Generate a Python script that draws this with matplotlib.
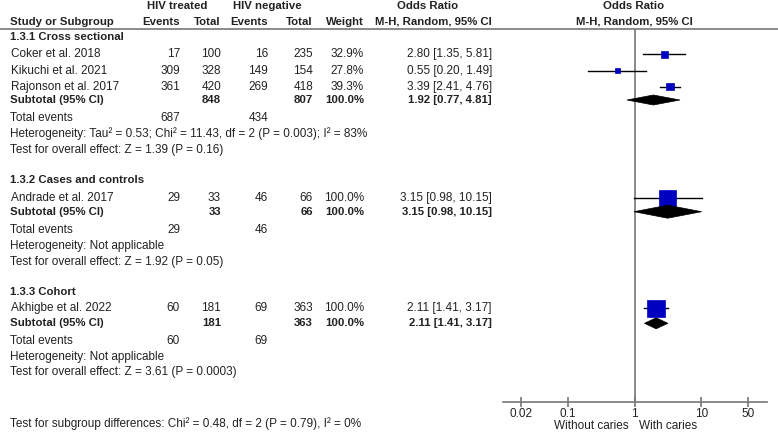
import matplotlib
matplotlib.use("Agg")
import matplotlib.pyplot as plt
from matplotlib.patches import Polygon, Rectangle
import numpy as np

plt.rcParams['font.family'] = ['Liberation Sans', 'DejaVu Sans']

# ---------------- data ----------------
studies = ["Coker et al. 2018", "Kikuchi et al. 2021", "Rajonson et al. 2017",
           "Andrade et al. 2017", "Akhigbe et al. 2022"]
study_group = [0, 0, 0, 1, 2]
treated_events = [17, 309, 361, 29, 60]
treated_total = [100, 328, 420, 33, 181]
neg_events = [16, 149, 269, 46, 69]
neg_total = [235, 154, 418, 66, 363]
weights = [32.9, 27.8, 39.3, 100.0, 100.0]
or_est = [2.80, 0.55, 3.39, 3.15, 2.11]
or_lo = [1.35, 0.20, 2.41, 0.98, 1.41]
or_hi = [5.81, 1.49, 4.76, 10.15, 3.17]

groups = ["1.3.1 Cross sectional", "1.3.2 Cases and controls", "1.3.3 Cohort"]
grp_treated_total = [848, 33, 181]
grp_neg_total = [807, 66, 363]
grp_treated_events = [687, 29, 60]
grp_neg_events = [434, 46, 69]
grp_or = [1.92, 3.15, 2.11]
grp_lo = [0.77, 0.98, 1.41]
grp_hi = [4.81, 10.15, 3.17]
grp_het = ["Heterogeneity: Tau² = 0.53; Chi² = 11.43, df = 2 (P = 0.003); I² = 83%",
           "Heterogeneity: Not applicable",
           "Heterogeneity: Not applicable"]
grp_test = ["Test for overall effect: Z = 1.39 (P = 0.16)",
            "Test for overall effect: Z = 1.92 (P = 0.05)",
            "Test for overall effect: Z = 3.61 (P = 0.0003)"]
subgroup_diff = "Test for subgroup differences: Chi² = 0.48, df = 2 (P = 0.79), I² = 0%"
axis_ticks = [0.02, 0.1, 1, 10, 50]
axis_ticklabels = ["0.02", "0.1", "1", "10", "50"]
favours = ["Without caries", "With caries"]

# ---------------- layout ----------------
W, H = 778, 442
fig = plt.figure(figsize=(W / 100, H / 100), dpi=100)
bg = fig.add_axes([0, 0, 1, 1])
bg.set_xlim(0, W)
bg.set_ylim(H, 0)
bg.axis('off')

FS = 8.5
FSB = 8.2
GREY = '#777777'
BLUE = '#0000c0'
TXT = '#222222'

# row pixel positions (layout)
group_title_y = [36.7, 180.0, 291.7]
study_y = [54.3, 71.0, 86.7, 198.3, 308.3]
subtotal_y = [100.0, 211.7, 323.3]
events_y = [118.0, 230.0, 340.7]
het_y = [134.0, 246.0, 356.7]
test_y = [150.0, 261.7, 371.7]

x_name = 10
x_te, x_tt, x_ne, x_nt, x_w, x_or = 180, 221, 268, 313, 364, 492

def t(x, y, s, ha='left', bold=False, **kw):
    bg.text(x, y, s, ha=ha, va='center', fontsize=FSB if bold else FS,
            fontweight='bold' if bold else 'normal', color=TXT, **kw)

# headers
t(177, 6, "HIV treated", ha='center', bold=True)
t(267, 6, "HIV negative", ha='center', bold=True)
t(428, 6, "Odds Ratio", ha='center', bold=True)
t(634, 6, "Odds Ratio", ha='center', bold=True)
t(x_name, 22, "Study or Subgroup", bold=True)
t(x_te, 22, "Events", ha='right', bold=True)
t(x_tt, 22, "Total", ha='right', bold=True)
t(x_ne, 22, "Events", ha='right', bold=True)
t(x_nt, 22, "Total", ha='right', bold=True)
t(x_w, 22, "Weight", ha='right', bold=True)
t(x_or, 22, "M-H, Random, 95% CI", ha='right', bold=True)
t(634, 22, "M-H, Random, 95% CI", ha='center', bold=True)
bg.plot([0, W], [29, 29], color=GREY, lw=1.2)

for g in range(3):
    t(x_name, group_title_y[g], groups[g], bold=True)
    t(x_name, subtotal_y[g], "Subtotal (95% CI)", bold=True)
    t(x_tt, subtotal_y[g], str(grp_treated_total[g]), ha='right', bold=True)
    t(x_nt, subtotal_y[g], str(grp_neg_total[g]), ha='right', bold=True)
    t(x_w, subtotal_y[g], "100.0%", ha='right', bold=True)
    t(x_or, subtotal_y[g], f"{grp_or[g]:.2f} [{grp_lo[g]:.2f}, {grp_hi[g]:.2f}]", ha='right', bold=True)
    t(x_name, events_y[g], "Total events")
    t(x_te, events_y[g], str(grp_treated_events[g]), ha='right')
    t(x_ne, events_y[g], str(grp_neg_events[g]), ha='right')
    t(x_name, het_y[g], grp_het[g])
    t(x_name, test_y[g], grp_test[g])

for i in range(len(studies)):
    y = study_y[i]
    t(x_name + 1, y, studies[i])
    t(x_te, y, str(treated_events[i]), ha='right')
    t(x_tt, y, str(treated_total[i]), ha='right')
    t(x_ne, y, str(neg_events[i]), ha='right')
    t(x_nt, y, str(neg_total[i]), ha='right')
    t(x_w, y, f"{weights[i]:.1f}%", ha='right')
    t(x_or, y, f"{or_est[i]:.2f} [{or_lo[i]:.2f}, {or_hi[i]:.2f}]", ha='right')

t(x_name, 423.3, subgroup_diff)

# ---------------- forest axes ----------------
ax_l, ax_r = 502.7, 766.7
ax_top, ax_bot = 29, 401.7
x_one = 634.5
px_per_dec = 66.7
ax = fig.add_axes([ax_l / W, 1 - ax_bot / H, (ax_r - ax_l) / W, (ax_bot - ax_top) / H])
ax.set_xscale('log')
ax.set_xlim(10 ** ((ax_l - x_one) / px_per_dec), 10 ** ((ax_r - x_one) / px_per_dec))
ax.set_ylim(ax_bot, ax_top)
ax.patch.set_alpha(0)
for s in ['top', 'left', 'right']:
    ax.spines[s].set_visible(False)
ax.spines['bottom'].set_color(GREY)
ax.spines['bottom'].set_linewidth(1.2)
ax.set_yticks([])
ax.set_xticks(axis_ticks)
ax.set_xticklabels(axis_ticklabels, fontsize=FS, color=TXT)
ax.minorticks_off()
ax.tick_params(axis='x', direction='inout', length=7, width=1.2, color=GREY, pad=1)
ax.axvline(1, color=GREY, lw=1.2)

sq_px = [6.5, 5.0, 7.5, 17.5, 17.5]
for i in range(len(studies)):
    y = study_y[i]
    ax.plot([or_lo[i], or_hi[i]], [y, y], color='black', lw=1.0, zorder=3)
    half = sq_px[i] / 2
    lx = or_est[i] * 10 ** (-half / px_per_dec)
    rx = or_est[i] * 10 ** (half / px_per_dec)
    ax.add_patch(Rectangle((lx, y - half), rx - lx, 2 * half, facecolor=BLUE,
                           edgecolor=BLUE, lw=0.5, zorder=4))

dia_h = [10, 13, 11]
for g in range(3):
    y = subtotal_y[g]
    h = dia_h[g] / 2
    ax.add_patch(Polygon([[grp_lo[g], y], [grp_or[g], y - h], [grp_hi[g], y], [grp_or[g], y + h]],
                         closed=True, facecolor='black', edgecolor='black', lw=0.5, zorder=4))

fav_y = 426
ax.text(10 ** (-5.5 / px_per_dec), fav_y, favours[0], ha='right', va='center',
        fontsize=FS, color=TXT, clip_on=False)
ax.text(10 ** (4.5 / px_per_dec), fav_y, favours[1], ha='left', va='center',
        fontsize=FS, color=TXT, clip_on=False)

fig.savefig("out.png", dpi=100)
